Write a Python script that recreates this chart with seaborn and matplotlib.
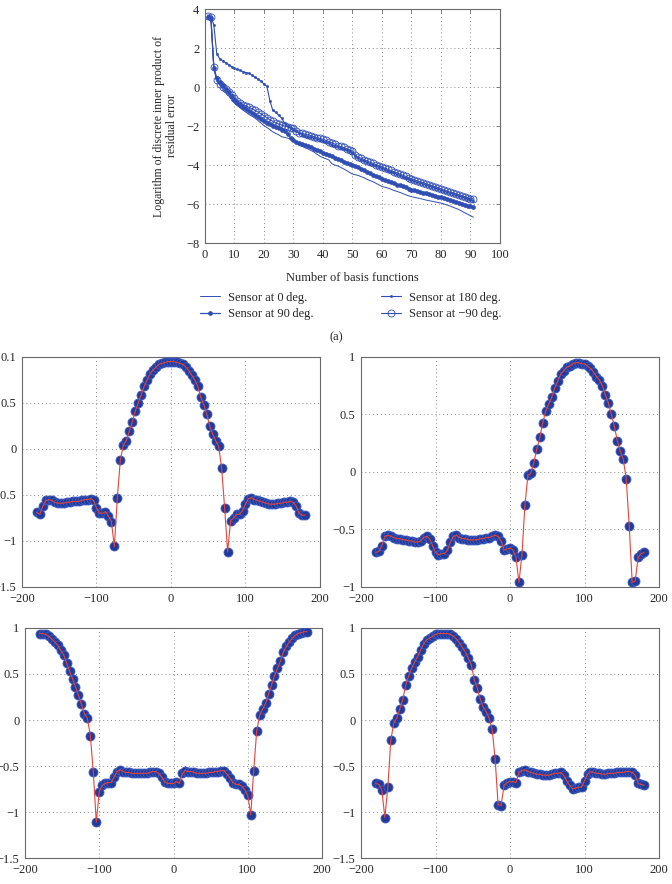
import numpy as np
import pandas as pd
import seaborn as sns
import matplotlib.pyplot as plt

# ---- data: top panel (a), log of residual inner product vs number of basis functions
n_basis = list(range(1, 92))
sensor_0 = [3.70, 3.65, 1.00, 0.30, 0.10, -0.10, -0.25, -0.42, -0.60, -0.80,
            -0.95, -1.08, -1.20, -1.30, -1.42, -1.50, -1.60, -1.72, -1.85, -1.98,
            -2.08, -2.18, -2.30, -2.38, -2.45, -2.55, -2.58, -2.62, -2.66, -2.74,
            -2.86, -3.00, -3.05, -3.12, -3.18, -3.26, -3.34, -3.45, -3.55, -3.62,
            -3.68, -3.74, -3.93, -4.00, -4.05, -4.12, -4.20, -4.28, -4.38, -4.46,
            -4.50, -4.54, -4.60, -4.66, -4.74, -4.80, -4.86, -4.94, -5.02, -5.10,
            -5.14, -5.18, -5.24, -5.30, -5.35, -5.40, -5.46, -5.52, -5.58, -5.62,
            -5.66, -5.69, -5.72, -5.76, -5.80, -5.83, -5.86, -5.89, -5.92, -5.95,
            -6.00, -6.05, -6.10, -6.16, -6.22, -6.28, -6.36, -6.45, -6.52, -6.60, -6.68]
sensor_90 = [3.60, 3.55, 1.00, 0.45, 0.25, 0.08, -0.08, -0.25, -0.45, -0.65,
             -0.80, -0.92, -1.02, -1.12, -1.22, -1.32, -1.42, -1.52, -1.62, -1.72,
             -1.82, -1.92, -2.00, -2.06, -2.12, -2.18, -2.25, -2.42, -2.60, -2.72,
             -2.80, -2.88, -2.94, -2.99, -3.04, -3.10, -3.16, -3.22, -3.30, -3.36,
             -3.42, -3.48, -3.55, -3.62, -3.70, -3.76, -3.82, -3.88, -3.94, -4.00,
             -4.06, -4.12, -4.18, -4.26, -4.34, -4.42, -4.50, -4.57, -4.64, -4.70,
             -4.76, -4.82, -4.88, -4.94, -5.00, -5.05, -5.10, -5.15, -5.21, -5.27,
             -5.30, -5.34, -5.38, -5.42, -5.45, -5.49, -5.53, -5.57, -5.62, -5.66,
             -5.71, -5.76, -5.80, -5.85, -5.90, -5.94, -5.98, -6.03, -6.08, -6.12, -6.16]
sensor_180 = [3.65, 3.60, 3.20, 1.70, 1.45, 1.35, 1.25, 1.15, 1.05, 0.95,
              0.90, 0.85, 0.78, 0.74, 0.70, 0.60, 0.50, 0.40, 0.30, 0.15,
              0.03, -0.70, -1.20, -1.30, -1.45, -1.60, -1.85, -2.00, -2.10, -2.18,
              -2.28, -2.38, -2.44, -2.49, -2.54, -2.58, -2.62, -2.67, -2.72, -2.77,
              -2.83, -2.89, -2.95, -3.02, -3.08, -3.13, -3.18, -3.24, -3.30, -3.38,
              -3.56, -3.66, -3.72, -3.79, -3.87, -3.93, -3.99, -4.05, -4.11, -4.17,
              -4.23, -4.29, -4.35, -4.41, -4.47, -4.53, -4.59, -4.65, -4.72, -4.79,
              -4.84, -4.89, -4.93, -4.98, -5.03, -5.08, -5.13, -5.18, -5.24, -5.29,
              -5.35, -5.40, -5.45, -5.49, -5.54, -5.59, -5.64, -5.69, -5.74, -5.79, -5.82]
sensor_m90 = [3.65, 3.60, 1.02, 0.34, 0.15, 0.00, -0.12, -0.28, -0.42, -0.58,
              -0.70, -0.80, -0.90, -0.98, -1.05, -1.12, -1.20, -1.28, -1.38, -1.48,
              -1.58, -1.68, -1.76, -1.84, -1.90, -1.95, -2.00, -2.04, -2.08, -2.12,
              -2.24, -2.34, -2.38, -2.42, -2.46, -2.50, -2.54, -2.59, -2.64, -2.68,
              -2.74, -2.80, -2.86, -2.93, -3.00, -3.05, -3.10, -3.16, -3.22, -3.28,
              -3.50, -3.60, -3.66, -3.72, -3.80, -3.86, -3.92, -3.98, -4.04, -4.10,
              -4.16, -4.22, -4.28, -4.34, -4.40, -4.46, -4.52, -4.58, -4.65, -4.72,
              -4.77, -4.82, -4.86, -4.91, -4.96, -5.01, -5.06, -5.11, -5.17, -5.22,
              -5.28, -5.33, -5.38, -5.42, -5.47, -5.52, -5.57, -5.62, -5.67, -5.72, -5.75]
legend_labels = ["Sensor at 0\u2009deg.", "Sensor at 90\u2009deg.",
                 "Sensor at 180\u2009deg.", "Sensor at \u221290\u2009deg."]

# ---- data: panel (b), four response curves vs angle (deg)
angle = list(range(-180, 181, 4))
curve_1 = [-0.69, -0.71, -0.62, -0.56, -0.55, -0.56, -0.58, -0.59, -0.59, -0.59,
           -0.58, -0.58, -0.57, -0.57, -0.57, -0.56, -0.55, -0.55, -0.54, -0.56,
           -0.64, -0.70, -0.70, -0.68, -0.73, -0.79, -1.06, -0.53, -0.12, 0.04,
           0.09, 0.19, 0.29, 0.41, 0.50, 0.59, 0.68, 0.75, 0.82, 0.86,
           0.89, 0.92, 0.93, 0.94, 0.95, 0.95, 0.95, 0.94, 0.93, 0.92,
           0.89, 0.85, 0.80, 0.75, 0.68, 0.56, 0.48, 0.38, 0.25, 0.16,
           0.09, 0.03, -0.21, -0.64, -1.12, -0.78, -0.75, -0.71, -0.71, -0.67,
           -0.60, -0.54, -0.53, -0.55, -0.56, -0.57, -0.58, -0.59, -0.60, -0.60,
           -0.60, -0.59, -0.59, -0.58, -0.58, -0.57, -0.58, -0.62, -0.70, -0.72, -0.72]
curve_2 = [-0.70, -0.69, -0.64, -0.56, -0.55, -0.56, -0.57, -0.58, -0.58, -0.59,
           -0.59, -0.60, -0.60, -0.61, -0.61, -0.60, -0.57, -0.56, -0.58, -0.64,
           -0.70, -0.72, -0.71, -0.71, -0.68, -0.61, -0.56, -0.55, -0.57, -0.58,
           -0.58, -0.59, -0.59, -0.59, -0.59, -0.58, -0.58, -0.57, -0.57, -0.56,
           -0.55, -0.56, -0.60, -0.68, -0.67, -0.66, -0.68, -0.74, -0.96, -0.72,
           -0.29, -0.03, -0.01, 0.08, 0.20, 0.30, 0.43, 0.53, 0.59, 0.65,
           0.73, 0.79, 0.85, 0.88, 0.91, 0.92, 0.94, 0.95, 0.95, 0.94,
           0.94, 0.92, 0.90, 0.87, 0.83, 0.80, 0.75, 0.67, 0.60, 0.50,
           0.40, 0.27, 0.18, 0.11, -0.06, -0.47, -0.96, -0.95, -0.74, -0.71, -0.70]
curve_3 = [0.94, 0.94, 0.93, 0.91, 0.88, 0.85, 0.81, 0.76, 0.71, 0.62,
           0.53, 0.45, 0.36, 0.27, 0.17, 0.07, 0.02, -0.17, -0.57, -1.11,
           -0.78, -0.71, -0.69, -0.68, -0.68, -0.62, -0.56, -0.54, -0.56, -0.57,
           -0.57, -0.58, -0.58, -0.58, -0.58, -0.58, -0.58, -0.57, -0.56, -0.56,
           -0.58, -0.62, -0.67, -0.69, -0.69, -0.69, -0.67, -0.69, -0.58, -0.55,
           -0.56, -0.56, -0.57, -0.58, -0.58, -0.58, -0.58, -0.57, -0.57, -0.56,
           -0.56, -0.55, -0.55, -0.59, -0.63, -0.68, -0.70, -0.70, -0.72, -0.76,
           -0.82, -1.03, -0.55, -0.12, 0.05, 0.12, 0.18, 0.28, 0.38, 0.48,
           0.56, 0.64, 0.74, 0.80, 0.85, 0.89, 0.92, 0.94, 0.95, 0.96, 0.96]
curve_4 = [-0.69, -0.70, -0.76, -1.06, -0.73, -0.22, -0.03, 0.02, 0.12, 0.22,
           0.38, 0.48, 0.56, 0.63, 0.69, 0.76, 0.83, 0.87, 0.89, 0.91,
           0.93, 0.94, 0.94, 0.94, 0.94, 0.93, 0.91, 0.88, 0.84, 0.79,
           0.74, 0.67, 0.60, 0.44, 0.35, 0.23, 0.14, 0.09, 0.02, -0.10,
           -0.42, -0.92, -0.93, -0.71, -0.68, -0.67, -0.67, -0.68, -0.57, -0.55,
           -0.54, -0.56, -0.57, -0.58, -0.59, -0.59, -0.60, -0.60, -0.60, -0.59,
           -0.58, -0.58, -0.57, -0.60, -0.66, -0.71, -0.75, -0.74, -0.73, -0.73,
           -0.66, -0.59, -0.56, -0.57, -0.58, -0.58, -0.59, -0.59, -0.58, -0.58,
           -0.58, -0.57, -0.57, -0.57, -0.56, -0.56, -0.57, -0.60, -0.69, -0.70, -0.71]

yticks_15 = [-1.5, -1, -0.5, 0, 0.5, 1]
ylabels_first = ["\u22121.5", "\u22121", "\u22120.5", "0", "0.5", "0.1"]   # sic, as printed
ylabels_15 = ["\u22121.5", "\u22121", "\u22120.5", "0", "0.5", "1"]
yticks_10 = [-1, -0.5, 0, 0.5, 1]
ylabels_10 = ["\u22121", "\u22120.5", "0", "0.5", "1"]
xticks_b = [-200, -100, 0, 100, 200]

sns.set_style("white")
plt.rcParams['font.family'] = ['Liberation Serif', 'DejaVu Serif']
plt.rcParams['font.size'] = 9

blue = "#2f4db3"
dot_blue = "#243a97"
red = "#e8433a"


def style_axes(ax):
    for s in ax.spines.values():
        s.set_color("#6a6a6a")
        s.set_linewidth(0.8)
    ax.tick_params(direction="in", length=3, width=0.6, color="#6a6a6a",
                   labelsize=9, pad=4, top=True, right=True)
    ax.grid(True, linestyle=(0, (1, 3)), color="#8a8a8a", linewidth=0.7)
    ax.set_axisbelow(True)


fig = plt.figure(figsize=(6.72, 8.84), dpi=100)

# ---- panel (a)
ax = fig.add_axes([0.305, 0.7251, 0.439, 0.2647])
sns.lineplot(x=n_basis, y=sensor_0, ax=ax, color=blue, linewidth=0.7,
             label=legend_labels[0])
sns.lineplot(x=n_basis, y=sensor_90, ax=ax, color=blue, linewidth=0.9,
             marker="o", markersize=2.8, markeredgecolor=blue, markeredgewidth=0.5,
             label=legend_labels[1])
sns.lineplot(x=n_basis, y=sensor_180, ax=ax, color=blue, linewidth=0.8,
             marker="o", markersize=1.6, markeredgecolor=blue, markeredgewidth=0.4,
             label=legend_labels[2])
sns.lineplot(x=n_basis, y=sensor_m90, ax=ax, color=blue, linewidth=0.8,
             marker="o", markersize=5.0, markerfacecolor="none",
             markeredgecolor=blue, markeredgewidth=0.6, label=legend_labels[3])
ax.set_xlim(0, 100)
ax.set_ylim(-8, 4)
ax.set_xticks(range(0, 101, 10))
ax.set_yticks(range(-8, 5, 2))
style_axes(ax)
ax.set_xlabel("Number of basis functions", fontsize=9, labelpad=8)
ax.set_ylabel("Logarithm of discrete inner product of\nresidual error",
              fontsize=8.5, labelpad=6, linespacing=1.1)
handles, labels = ax.get_legend_handles_labels()
ax.get_legend().remove()
fig.legend(handles, labels, loc="center", bbox_to_anchor=(0.522, 0.654), ncol=2,
           frameon=False, fontsize=9, handlelength=1.6, handletextpad=0.6,
           columnspacing=5.4, labelspacing=0.35)
fig.text(0.5, 0.619, "(a)", ha="center", va="center", fontsize=9)

# ---- panel (b)
panels = [
    ([0.0327, 0.3360, 0.4435, 0.2602], curve_1, (-1.5, 1), yticks_15, ylabels_first),
    ([0.5372, 0.3360, 0.4435, 0.2602], curve_2, (-1, 1), yticks_10, ylabels_10),
    ([0.0372, 0.0294, 0.4420, 0.2602], curve_3, (-1.5, 1), yticks_15, ylabels_15),
    ([0.5372, 0.0294, 0.4435, 0.2602], curve_4, (-1.5, 1), yticks_15, ylabels_15),
]
for rect, curve, ylim, yt, yl in panels:
    bx = fig.add_axes(rect)
    df = pd.DataFrame({"angle": angle, "value": curve})
    sns.scatterplot(data=df, x="angle", y="value", ax=bx, s=42, color=dot_blue,
                    edgecolor="#3d5cc4", linewidth=0.6, zorder=3)
    sns.lineplot(data=df, x="angle", y="value", ax=bx, color=red, linewidth=0.8,
                 zorder=4)
    bx.set_xlim(-200, 200)
    bx.set_ylim(*ylim)
    bx.set_xticks(xticks_b)
    bx.set_xticklabels([f"{t}".replace("-", "\u2212") for t in xticks_b])
    bx.set_yticks(yt)
    bx.set_yticklabels(yl)
    bx.set_xlabel("")
    bx.set_ylabel("")
    style_axes(bx)
    bx.tick_params(top=False, right=False, length=0)

fig.text(0.5, -0.006, "(b)", ha="center", va="center", fontsize=9)

fig.savefig("out.png", dpi=100)
